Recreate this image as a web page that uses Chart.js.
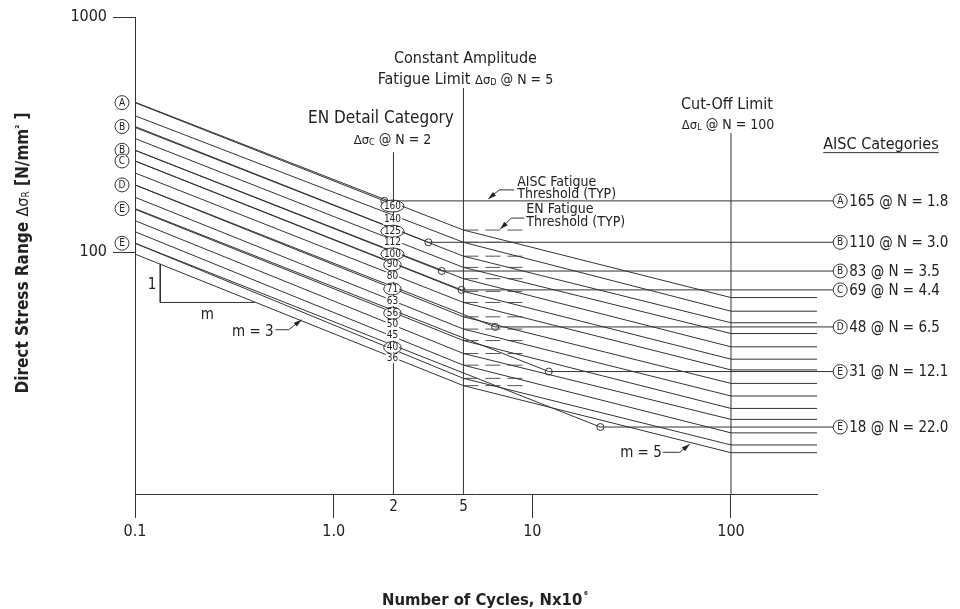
<!DOCTYPE html>
<html><head><meta charset="utf-8">
<script src="https://cdn.jsdelivr.net/npm/chart.js@4.4.1/dist/chart.umd.min.js"></script>
<style>html,body{margin:0;padding:0;background:#fff;}</style>
</head><body>
<canvas id="c" width="960" height="609"></canvas>
<script>
// ---------- data ----------
const xTicks = [0.1, 1, 10, 100];
const xTickLabels = ['0.1', '1.0', '10', '100'];
const yTicks = [100, 1000];
const yTickLabels = ['100', '1000'];
const xMin = 0.1, xMax = 271, yMin = 9.34, yMax = 1000;

const enCategories = [160, 140, 125, 112, 100, 90, 80, 71, 63, 56, 50, 45, 40, 36];
const enCircled = [160, 125, 100, 90, 71, 56, 40];
const enNodesN = [0.1, 4.5, 100, 271];
const enAtStart = [434, 380, 339, 304, 271, 244, 217, 193, 171, 152, 136, 122, 109, 98];
const enAtKnee = [124, 110, 96, 86, 77, 68, 61, 53, 47, 42, 37, 33, 29, 27];
const enAtCut = [64, 56, 50, 45, 39.5, 35, 31.5, 27.6, 24.4, 21.6, 19.4, 17, 15.1, 14];
const enDashN = [4.5, 9.5];

const aiscLetters = ['A', 'B', 'B', 'C', 'D', 'E', 'E'];
const aiscAtStart = [432, 342, 271, 244, 193, 153, 109];
const aiscThreshold = [165, 110, 83, 69, 48, 31, 18];
const aiscThresholdN = [1.8, 3.0, 3.5, 4.4, 6.5, 12.1, 22.0];
const aiscLabels = ['165 @ N = 1.8', '110 @ N = 3.0', '83 @ N = 3.5', '69 @ N = 4.4', '48 @ N = 6.5', '31 @ N = 12.1', '18 @ N = 22.0'];
const aiscEndN = 327;

const refLineN = [2, 4.5, 100];
const refLineLabels = ['2', '5', ''];
const refLineTop = [266, 499, 321];

const slopeTriN = [0.134, 0.134, 0.40];
const slopeTriS = [89, 61, 61];

// ---------- build datasets ----------
const INK = '#333';
const F = "'DejaVu Sans Condensed','DejaVu Sans',sans-serif";
const datasets = [];
enCategories.forEach((c, i) => {
  const vals = [enAtStart[i], enAtKnee[i], enAtCut[i], enAtCut[i]];
  datasets.push({ data: enNodesN.map((n, k) => ({ x: n, y: vals[k] })), borderColor: INK, borderWidth: 1, pointRadius: 0, clip: false });
  datasets.push({ data: enDashN.map(n => ({ x: n, y: enAtKnee[i] })), borderColor: '#555', borderWidth: 1, borderDash: [15, 7], pointRadius: 0, clip: false });
});
aiscThreshold.forEach((t, i) => {
  datasets.push({
    data: [{ x: 0.1, y: aiscAtStart[i] }, { x: aiscThresholdN[i], y: t }, { x: aiscEndN, y: t }],
    borderColor: INK, borderWidth: 1, pointRadius: [0, 3.5, 0], pointBorderColor: INK,
    pointBackgroundColor: 'rgba(255,255,255,0)', pointBorderWidth: 1, clip: false
  });
});
refLineN.forEach((n, i) => {
  datasets.push({ data: [{ x: n, y: yMin }, { x: n, y: refLineTop[i] }], borderColor: INK, borderWidth: 1, pointRadius: 0, clip: false });
});
datasets.push({ data: slopeTriN.map((n, k) => ({ x: n, y: slopeTriS[k] })), borderColor: INK, borderWidth: 1, pointRadius: 0, clip: false });

// ---------- annotation helpers ----------
function runs(ctx, parts, x, y, align) {
  let w = 0;
  parts.forEach(p => { ctx.font = p[1]; w += ctx.measureText(p[0]).width; });
  let cx = align === 'center' ? x - w / 2 : align === 'right' ? x - w : x;
  ctx.textAlign = 'left'; ctx.textBaseline = 'alphabetic';
  parts.forEach(p => { ctx.font = p[1]; ctx.fillText(p[0], cx, y + (p[2] || 0)); cx += ctx.measureText(p[0]).width; });
  return w;
}
function leader(ctx, pts) {
  ctx.beginPath(); ctx.moveTo(pts[0][0], pts[0][1]);
  for (let i = 1; i < pts.length; i++) ctx.lineTo(pts[i][0], pts[i][1]);
  ctx.stroke();
  const [x1, y1] = pts[pts.length - 2], [x2, y2] = pts[pts.length - 1];
  const a = Math.atan2(y2 - y1, x2 - x1), L = 8, W = 2.5;
  ctx.beginPath(); ctx.moveTo(x2, y2);
  ctx.lineTo(x2 - L * Math.cos(a) + W * Math.sin(a), y2 - L * Math.sin(a) - W * Math.cos(a));
  ctx.lineTo(x2 - L * Math.cos(a) - W * Math.sin(a), y2 - L * Math.sin(a) + W * Math.cos(a));
  ctx.closePath(); ctx.fill();
}
function circLetter(ctx, letter, x, y) {
  ctx.beginPath(); ctx.arc(x, y, 7, 0, Math.PI * 2); ctx.fillStyle = '#fff'; ctx.fill(); ctx.stroke();
  ctx.fillStyle = '#222'; ctx.font = '10px ' + F; ctx.textAlign = 'center'; ctx.textBaseline = 'middle';
  ctx.fillText(letter, x, y + 0.5);
}

const annot = {
  id: 'annot',
  afterDatasetsDraw(chart) {
    const ctx = chart.ctx, xs = chart.scales.x, ys = chart.scales.y;
    const px = v => xs.getPixelForValue(v), py = v => ys.getPixelForValue(v);
    const ca = chart.chartArea;
    ctx.save();
    ctx.strokeStyle = INK; ctx.fillStyle = '#222'; ctx.lineWidth = 1;

    // EN detail category labels at N = 2
    enCategories.forEach(c => {
      const x = px(2) - 1, y = py(c) + 2;
      ctx.font = '10px ' + F;
      const w = ctx.measureText(String(c)).width;
      ctx.fillStyle = '#fff'; ctx.fillRect(x - w / 2 - 1, y - 5, w + 2, 10);
      ctx.fillStyle = '#222'; ctx.textAlign = 'center'; ctx.textBaseline = 'middle';
      ctx.fillText(String(c), x, y);
      if (enCircled.includes(c)) {
        ctx.beginPath(); ctx.ellipse(x, y, w / 2 + 3, 6, 0, 0, Math.PI * 2); ctx.stroke();
      }
    });

    // AISC letters left
    aiscLetters.forEach((l, i) => circLetter(ctx, l, ca.left - 13, py(aiscAtStart[i])));
    // AISC labels right
    aiscLetters.forEach((l, i) => {
      const x0 = px(aiscEndN), y = py(aiscThreshold[i]);
      circLetter(ctx, l, x0 + 7, y);
      ctx.fillStyle = '#222'; ctx.font = '15px ' + F; ctx.textAlign = 'left'; ctx.textBaseline = 'middle';
      ctx.fillText(aiscLabels[i], x0 + 16, y + 1);
    });

    // "2" and "5" under the axis
    ctx.font = '15px ' + F; ctx.textAlign = 'center'; ctx.textBaseline = 'middle';
    refLineN.forEach((n, i) => { if (refLineLabels[i]) ctx.fillText(refLineLabels[i], px(n), ca.bottom + 13); });

    // headings
    const big = '16px ' + F, sym = '13px ' + F, sub = '9px ' + F, mid = '14px ' + F;
    runs(ctx, [['Constant Amplitude', big]], px(4.5) + 2, py(676) + 6, 'center');
    runs(ctx, [['Fatigue Limit ', big], ['\u0394\u03C3', sym], ['D', sub, 1], [' @ N = 5', mid]], px(4.5) + 2, py(550) + 6, 'center');
    runs(ctx, [['EN Detail Category', '17px ' + F]], px(1.73), py(375) + 6, 'center');
    runs(ctx, [['\u0394\u03C3', sym], ['C', sub, 1], [' @ N = 2', mid]], px(2) - 1, py(303) + 5, 'center');
    runs(ctx, [['Cut-Off Limit', big]], px(100) - 4, py(430) + 6, 'center');
    runs(ctx, [['\u0394\u03C3', sym], ['L', sub, 1], [' @ N = 100', mid]], px(100) - 3, py(351) + 5, 'center');
    const aw = runs(ctx, [['AISC Categories', big]], 881, py(430) + 46, 'center');
    ctx.beginPath(); ctx.moveTo(881 - aw / 2, py(430) + 49.5); ctx.lineTo(881 + aw / 2, py(430) + 49.5); ctx.stroke();

    // AISC fatigue threshold leader
    const note = '14px ' + F;
    let tx = px(6.0), ty = py(aiscThreshold[0]) - 2;
    leader(ctx, [[tx + 26, ty - 9], [tx + 11, ty - 9], [tx, ty]]);
    runs(ctx, [['AISC Fatigue', note]], tx + 29, ty - 13, 'left');
    runs(ctx, [['Threshold (TYP)', note]], tx + 29, ty - 1, 'left');
    // EN fatigue threshold leader
    tx = px(6.9); ty = py(enAtKnee[0]) - 1;
    leader(ctx, [[tx + 24, ty - 11], [tx + 11, ty - 11], [tx, ty]]);
    runs(ctx, [['EN Fatigue', note]], tx + 26, ty - 16, 'left');
    runs(ctx, [['Threshold (TYP)', note]], tx + 26, ty - 3, 'left');
    // m = 3 leader
    tx = px(0.69); ty = py(51.5);
    leader(ctx, [[tx - 26, ty + 10], [tx - 13, ty + 10], [tx, ty]]);
    runs(ctx, [['m = 3', '15px ' + F]], tx - 28, ty + 16, 'right');
    // m = 5 leader
    tx = px(62); ty = py(15.2);
    leader(ctx, [[tx - 27, ty + 8], [tx - 10, ty + 8], [tx, ty]]);
    runs(ctx, [['m = 5', '15px ' + F]], tx - 28, ty + 13, 'right');

    // slope triangle labels
    runs(ctx, [['1', '15px ' + F]], px(slopeTriN[0]) - 4, (py(slopeTriS[0]) + py(slopeTriS[1])) / 2 + 6, 'right');
    runs(ctx, [['m', '15px ' + F]], (px(slopeTriN[1]) + px(slopeTriN[2])) / 2, py(slopeTriS[2]) + 17, 'center');

    // axis titles
    const bold = 'bold 17px ' + F;
    runs(ctx, [['Number of Cycles, Nx10', 'bold 16.5px ' + F], ['\u2009\u2076', 'bold 10px ' + F, -6]], 485, 605, 'center');
    ctx.translate(28, 253); ctx.rotate(-Math.PI / 2);
    runs(ctx, [['Direct Stress Range ', bold], ['\u0394\u03C3', '16px ' + F], ['R', '10px ' + F, 1], [' [N/mm', bold], ['\u00B2', 'bold 10px ' + F, -5], [' ]', bold]], 0, 0, 'center');
    ctx.restore();
  }
};

new Chart(document.getElementById('c'), {
  type: 'line',
  data: { datasets },
  options: {
    responsive: false, animation: false, devicePixelRatio: 1,
    layout: { padding: { top: 17, right: 143, left: 0, bottom: 0 } },
    plugins: { legend: { display: false }, tooltip: { enabled: false } },
    elements: { line: { tension: 0 } },
    scales: {
      x: {
        type: 'logarithmic', min: xMin, max: xMax,
        afterFit: s => { s.height = 115; },
        afterBuildTicks: s => { s.ticks = xTicks.map(v => ({ value: v })); },
        ticks: { autoSkip: false, maxRotation: 0, minRotation: 0, padding: 4, color: '#222', font: { family: F, size: 16 }, callback: (v, i) => xTickLabels[i] },
        grid: { drawOnChartArea: false, drawTicks: true, tickLength: 24, color: INK },
        border: { display: true, color: INK, width: 1 }
      },
      y: {
        type: 'logarithmic', min: yMin, max: yMax,
        afterFit: s => { s.width = 135; },
        afterBuildTicks: s => { s.ticks = yTicks.map(v => ({ value: v })); },
        ticks: { autoSkip: false, padding: 6, color: '#222', font: { family: F, size: 16 }, callback: (v, i) => yTickLabels[i] },
        grid: { drawOnChartArea: false, drawTicks: true, tickLength: 22, color: INK },
        border: { display: true, color: INK, width: 1 }
      }
    }
  },
  plugins: [annot]
});
</script>
</body></html>
